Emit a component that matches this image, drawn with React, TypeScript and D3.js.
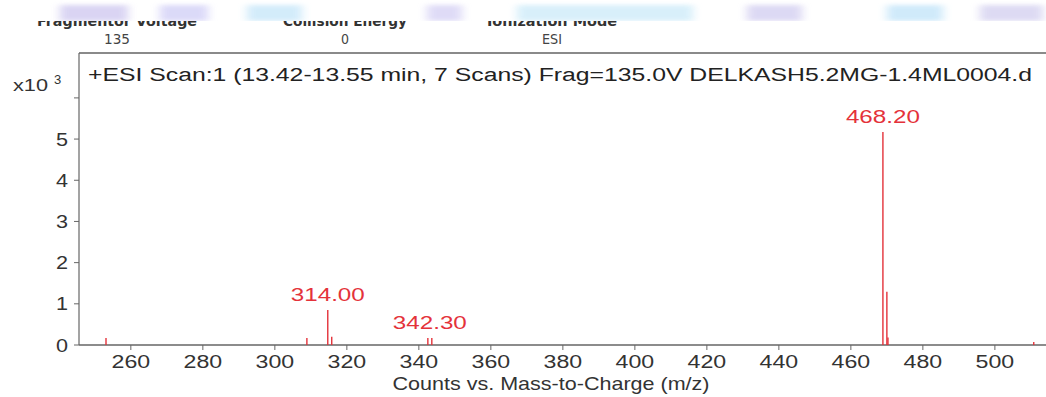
import React from "react";
import * as d3 from "d3";

// ---- data ----
const peakMz: number[] = [253.1, 308.9, 314.7, 315.8, 342.5, 343.6, 468.9, 470.0, 470.3, 510.8];
const peakCounts: number[] = [170, 170, 850, 200, 170, 170, 5170, 1290, 180, 70];

const labelText: string[] = ["314.00", "342.30", "468.20"];
const labelMz: number[] = [314.7, 343.05, 468.9];
const labelCounts: number[] = [850, 170, 5170];

const xTicks: number[] = [260, 280, 300, 320, 340, 360, 380, 400, 420, 440, 460, 480, 500];
const yTicks: number[] = [0, 1000, 2000, 3000, 4000, 5000, 6000];
const yTickLabels: string[] = ["0", "1", "2", "3", "4", "5", ""];

const headerNames: string[] = ["Fragmentor Voltage", "Collision Energy", "Ionization Mode"];
const headerValues: string[] = ["135", "0", "ESI"];

const titleText = "+ESI Scan:1 (13.42-13.55 min, 7 Scans) Frag=135.0V DELKASH5.2MG-1.4ML0004.d";
const xAxisTitle = "Counts vs. Mass-to-Charge (m/z)";

// ---- layout ----
const W = 1046;
const H = 397;
const left = 79;
const right = 1046;
const top = 53;
const bottom = 345;

const headerX = [117, 345, 552];
const headerNameW = [160, 124, 130];
const headerValueW = [26, 8, 20];

const bands = [
  { x: 60, w: 68, c: "#d6d0f2" },
  { x: 160, w: 48, c: "#d8d6f8" },
  { x: 247, w: 55, c: "#cfeafa" },
  { x: 427, w: 35, c: "#dcd8f6" },
  { x: 517, w: 176, c: "#d4eefa" },
  { x: 747, w: 55, c: "#d9d5f3" },
  { x: 887, w: 56, c: "#cbe8fa" },
  { x: 980, w: 63, c: "#dad7f2" },
];

export default function App() {
  const x = d3.scaleLinear().domain([245.6, 514.2]).range([left, right]);
  const y = d3.scaleLinear().domain([0, 7090]).range([bottom, top]);
  const red = "#e4323a";
  const font = "'Liberation Sans', Arial, sans-serif";

  return (
    <svg
      width={W}
      height={H}
      viewBox={`0 0 ${W} ${H}`}
      style={{ position: "absolute", left: 0, top: 0, background: "#fff" }}
    >
      <defs>
        <filter id="blur" filterUnits="userSpaceOnUse" x={0} y={-20} width={W} height={60}>
          <feGaussianBlur stdDeviation="5 2" />
        </filter>
        <clipPath id="hdrclip">
          <rect x={0} y={21} width={W} height={10} />
        </clipPath>
      </defs>
      <rect x={0} y={0} width={W} height={H} fill="#fff" />
      {/* top faint colour band */}
      <g filter="url(#blur)" opacity={0.9}>
        {bands.map((b, i) => (
          <rect key={i} x={b.x} y={5} width={b.w} height={16} fill={b.c} />
        ))}
      </g>
      <rect x={0} y={21} width={W} height={30} fill="#fff" />
      {/* header */}
      <g clipPath="url(#hdrclip)">
        {headerNames.map((t, i) => (
          <text
            key={i}
            x={headerX[i]}
            y={26}
            textAnchor="middle"
            fontFamily="'DejaVu Sans', sans-serif"
            fontWeight="bold"
            fontSize={14}
            fill="#333"
            textLength={headerNameW[i]}
            lengthAdjust="spacingAndGlyphs"
          >
            {t}
          </text>
        ))}
      </g>
      {headerValues.map((t, i) => (
        <text
          key={i}
          x={headerX[i]}
          y={44}
          textAnchor="middle"
          fontFamily="'DejaVu Sans', sans-serif"
          fontSize={14}
          fill="#444"
          textLength={headerValueW[i]}
          lengthAdjust="spacingAndGlyphs"
        >
          {t}
        </text>
      ))}

      {/* frame */}
      <line x1={left} x2={right} y1={top} y2={top} stroke="#8a8a8a" strokeWidth={2} />
      <line x1={left} x2={left} y1={top} y2={bottom} stroke="#666" strokeWidth={1.2} />
      <line x1={left} x2={right} y1={bottom} y2={bottom} stroke="#666" strokeWidth={1.5} />

      {/* y ticks */}
      {yTicks.map((v, i) => (
        <g key={i}>
          <line x1={left - 5} x2={left} y1={y(v)} y2={y(v)} stroke="#666" strokeWidth={1} />
          {yTickLabels[i] && (
            <text
              transform={`translate(${left - 11},${y(v) + 6.5}) scale(1.2,1)`}
              textAnchor="end"
              fontFamily={font}
              fontSize={18}
              fill="#333"
            >
              {yTickLabels[i]}
            </text>
          )}
        </g>
      ))}
      <text x={13} y={91} fontFamily={font} fontSize={17} fill="#333" textLength={35} lengthAdjust="spacingAndGlyphs">
        x10
      </text>
      <text x={54} y={84} fontFamily={font} fontSize={13} fill="#333">
        3
      </text>

      {/* x ticks */}
      {xTicks.map((v, i) => (
        <g key={i}>
          <line x1={x(v)} x2={x(v)} y1={bottom} y2={bottom + 5} stroke="#666" strokeWidth={1} />
          <text
            transform={`translate(${x(v)},${368}) scale(1.22,1)`}
            textAnchor="middle"
            fontFamily={font}
            fontSize={19}
            fill="#333"
          >
            {v}
          </text>
        </g>
      ))}
      <text
        x={551}
        y={390}
        textAnchor="middle"
        fontFamily={font}
        fontSize={19}
        fill="#333"
        textLength={317}
        lengthAdjust="spacingAndGlyphs"
      >
        {xAxisTitle}
      </text>

      {/* title */}
      <text
        x={88}
        y={81}
        fontFamily={font}
        fontSize={18}
        fill="#222"
        textLength={944}
        lengthAdjust="spacingAndGlyphs"
      >
        {titleText}
      </text>

      {/* peaks */}
      {peakMz.map((m, i) => (
        <line
          key={i}
          x1={x(m)}
          x2={x(m)}
          y1={bottom}
          y2={y(peakCounts[i])}
          stroke={red}
          strokeWidth={1.4}
        />
      ))}

      {/* peak labels */}
      {labelText.map((t, i) => (
        <text
          key={i}
          x={x(labelMz[i])}
          y={y(labelCounts[i]) - 9}
          textAnchor="middle"
          fontFamily={font}
          fontSize={18}
          fill={red}
          textLength={74}
          lengthAdjust="spacingAndGlyphs"
        >
          {t}
        </text>
      ))}
    </svg>
  );
}
